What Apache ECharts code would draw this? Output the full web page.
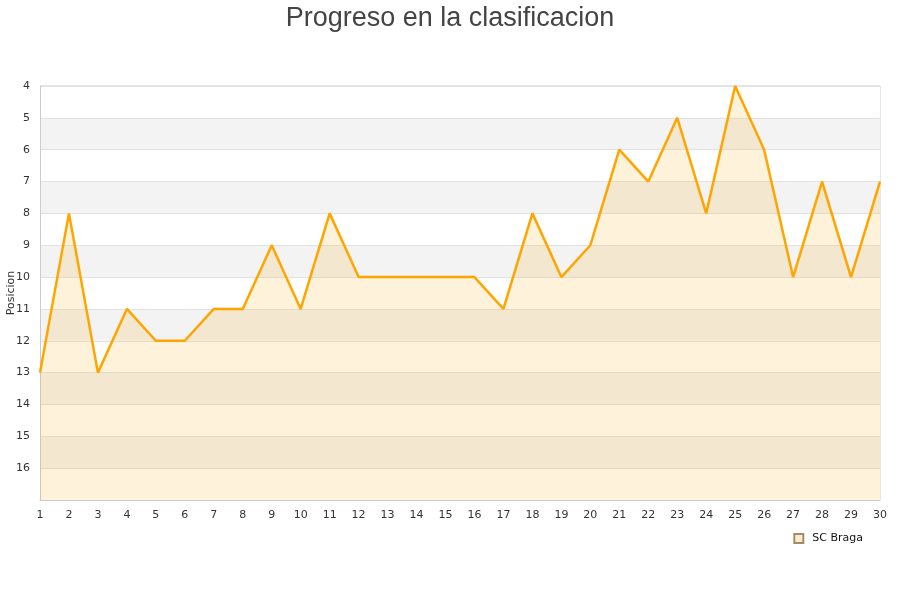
<!DOCTYPE html>
<html><head><meta charset="utf-8">
<script src="https://cdn.jsdelivr.net/npm/echarts@6/dist/echarts.min.js"></script>
<style>html,body{margin:0;padding:0;background:#fff}#c{width:900px;height:600px}</style>
</head><body><div id="c"></div>
<script>
const jornadas = [1,2,3,4,5,6,7,8,9,10,11,12,13,14,15,16,17,18,19,20,21,22,23,24,25,26,27,28,29,30];
const posiciones = [13,8,13,11,12,12,11,11,9,11,8,10,10,10,10,10,11,8,10,9,6,7,5,8,4,6,10,7,10,7];
const teamName = 'SC Braga';
const titleText = 'Progreso en la clasificacion';
const yName = 'Posicion';

const chart = echarts.init(document.getElementById('c'));
chart.setOption({
  animation: false,
  backgroundColor: '#fff',
  title: {text: titleText, left: 'center', top: 0,
    textStyle: {fontFamily: 'Liberation Sans, Arial', fontSize: 27, fontWeight: 'normal', color: '#444'}},
  legend: {data: [teamName], right: 32, top: 528, itemWidth: 9, itemHeight: 9, icon: 'rect',
    textStyle: {fontFamily: 'DejaVu Sans', fontSize: 11, color: '#111', padding: [0, 0, 0, 4]}},
  grid: {left: 40, right: 20, top: 86, bottom: 100, containLabel: false, outerBoundsMode: 'none'},
  xAxis: {type: 'value', min: 1, max: 30, interval: 1,
    axisLine: {show: true, lineStyle: {color: '#ccc'}}, axisTick: {show: false},
    splitLine: {show: false},
    axisLabel: {fontFamily: 'DejaVu Sans', fontSize: 11, color: '#333', margin: 10}},
  yAxis: {type: 'value', inverse: true, min: 4, max: 17, interval: 1,
    name: yName, nameLocation: 'middle', nameGap: 23, nameMoveOverlap: false,
    nameTextStyle: {fontFamily: 'DejaVu Sans', fontSize: 11, color: '#333'},
    axisLine: {show: true, lineStyle: {color: '#ccc'}}, axisTick: {show: false},
    axisLabel: {fontFamily: 'DejaVu Sans', fontSize: 11, color: '#333', margin: 10, showMaxLabel: false},
    splitLine: {show: true, lineStyle: {color: '#e2e2e2'}},
    splitArea: {show: true, areaStyle: {color: ['#ffffff', '#f3f3f3']}}},
  graphic: [{type: 'rect', shape: {x: 880, y: 86, width: 0, height: 414}, style: {stroke: '#ddd', lineWidth: 1}},
            {type: 'rect', shape: {x: 40, y: 86, width: 840, height: 0}, style: {stroke: '#ddd', lineWidth: 1}}],
  series: [{
    name: teamName, type: 'line',
    data: jornadas.map((j, i) => [j, posiciones[i]]),
    symbol: 'none',
    lineStyle: {color: '#ffa500', width: 2.5},
    itemStyle: {color: '#feedcc', borderColor: '#a08c6a', borderWidth: 1},
    areaStyle: {color: 'rgba(255,165,0,0.2)', origin: 'end'}
  }]
});
</script></body></html>
